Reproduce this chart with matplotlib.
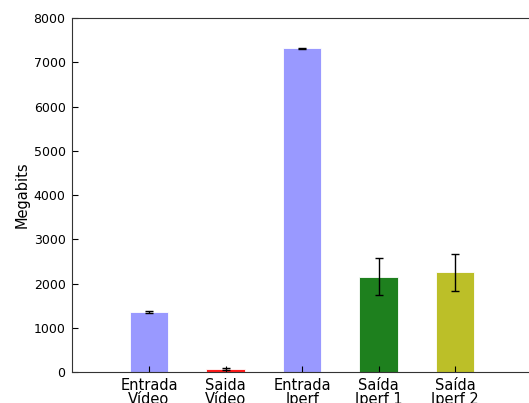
import matplotlib
matplotlib.use("Agg")
import matplotlib.pyplot as plt

categories = ["Entrada\nVídeo", "Saida\nVídeo", "Entrada\nIperf", "Saída\nIperf 1", "Saída\nIperf 2"]
means = [1355, 65, 7315, 2155, 2250]
errors = [20, 15, 10, 418, 418]
colors = ["#9999ff", "#ff1a1a", "#9999ff", "#1e801e", "#bcbf28"]

fig = plt.figure(figsize=(5.29, 4.03), dpi=100)
ax = fig.add_axes([0.137, 0.077, 0.868, 0.878])

positions = list(range(1, len(categories) + 1))
ax.bar(positions, means, width=0.5, color=colors, edgecolor="white", linewidth=0.6,
       yerr=errors, error_kw=dict(ecolor="black", elinewidth=1, capsize=3, capthick=1))

ax.set_xlim(0, 6)
ax.set_ylim(0, 8000)
ax.set_yticks(range(0, 8001, 1000))
ax.set_xticks(positions)
ax.set_xticklabels(categories, fontsize=10.5, linespacing=0.97)
ax.tick_params(axis="y", labelsize=9, direction="in", length=4, pad=5)
ax.tick_params(axis="x", direction="in", length=4, pad=4)
ax.tick_params(top=False, right=False)
ax.set_ylabel("Megabits", fontsize=10.5, labelpad=3)
for s in ax.spines.values():
    s.set_color("#333333")

fig.savefig("out.png", dpi=100)
